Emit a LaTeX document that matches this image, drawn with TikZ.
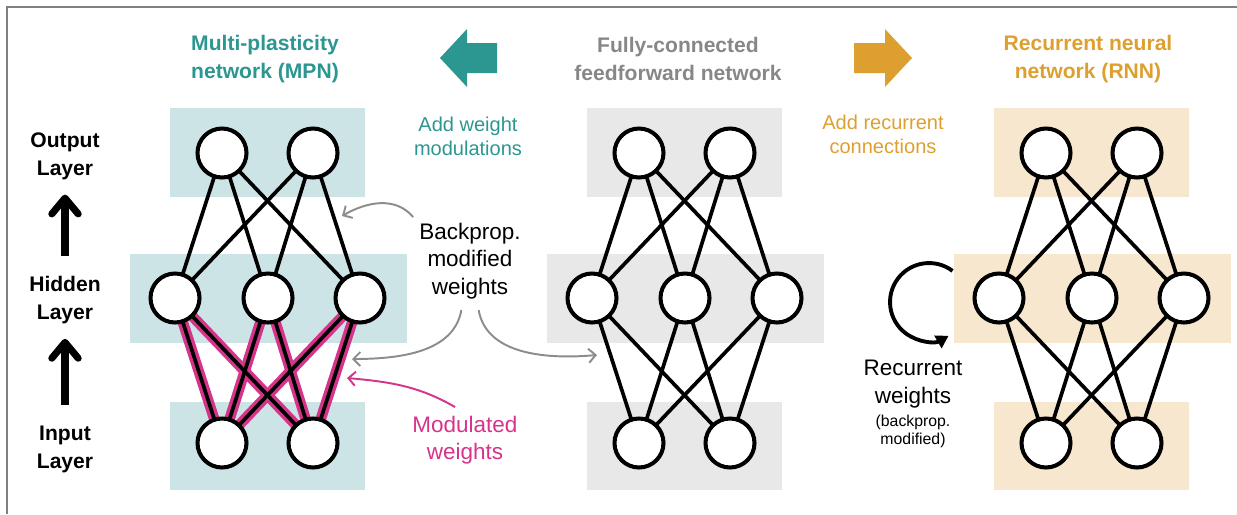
\documentclass[tikz,border=0pt]{standalone}
\usepackage{fontspec}
\setmainfont{Liberation Sans}
\usetikzlibrary{arrows.meta}

\definecolor{mpnteal}{RGB}{44,150,145}
\definecolor{mpnband}{RGB}{205,228,230}
\definecolor{ffgray}{RGB}{135,135,135}
\definecolor{ffband}{RGB}{232,232,232}
\definecolor{rnngold}{RGB}{221,160,48}
\definecolor{rnnband}{RGB}{246,231,206}
\definecolor{modpink}{RGB}{214,51,138}
\definecolor{hintgray}{RGB}{140,140,140}

\pgfdeclarelayer{bands}
\pgfdeclarelayer{wires}
\pgfsetlayers{bands,wires,main}

\begin{document}
\begin{tikzpicture}[x=0.02cm, y=0.02cm,
    neuron/.style={circle, draw, line width=2.3pt, fill=white, minimum size=0.98cm, inner sep=0pt},
    link/.style={line width=2.1pt},
    modlink/.style={draw=modpink, line width=6pt},
    title/.style={font=\bfseries\fontsize{12}{16}\selectfont, align=center},
    note/.style={font=\fontsize{11.4}{13.5}\selectfont, align=center},
    label/.style={font=\fontsize{12.8}{15.5}\selectfont, align=center},
    layername/.style={font=\bfseries\fontsize{12}{16}\selectfont, align=center},
    uparrow/.style={line width=4pt, -{Straight Barb[length=9pt,width=15pt,round]}},
    hint/.style={draw=hintgray, line width=1.1pt, -{Straight Barb[length=4pt,width=8pt]}},
    recur/.style={line width=2.2pt, -{Triangle[length=7pt,width=8pt]}}]

    \useasboundingbox (0,0) rectangle (1237,-514);

    % Frame
    \draw[gray, line width=0.6pt] (7,-514) -- (7,-7) -- (1237,-7);

    % Layer bands
    \begin{pgfonlayer}{bands}
        \foreach \dx/\col in {0/mpnband, 417/ffband, 824/rnnband} {
            \fill[\col] (170+\dx,-108) rectangle (365+\dx,-197);
            \fill[\col] (130+\dx,-254) rectangle (407+\dx,-343);
            \fill[\col] (170+\dx,-402) rectangle (365+\dx,-490);
        }
    \end{pgfonlayer}

    % Neurons of the three networks
    \foreach \n/\dx in {m/0, f/417, r/824} {
        \node[neuron] (\n-o1) at (222+\dx,-153) {};
        \node[neuron] (\n-o2) at (313+\dx,-153) {};
        \node[neuron] (\n-h1) at (175+\dx,-298) {};
        \node[neuron] (\n-h2) at (268+\dx,-298) {};
        \node[neuron] (\n-h3) at (360+\dx,-298) {};
        \node[neuron] (\n-i1) at (222+\dx,-443) {};
        \node[neuron] (\n-i2) at (313+\dx,-443) {};
    }

    % Weights
    \begin{pgfonlayer}{wires}
        \foreach \a in {1,2} {
            \foreach \b in {1,2,3} {
                \draw[modlink] (m-i\a.center) -- (m-h\b.center);
            }
        }
        \foreach \n in {m,f,r} {
            \foreach \a in {1,2} {
                \foreach \b in {1,2,3} {
                    \draw[link] (\n-o\a.center) -- (\n-h\b.center);
                    \draw[link] (\n-i\a.center) -- (\n-h\b.center);
                }
            }
        }
    \end{pgfonlayer}

    % Layer names
    \node[layername] (out-lbl) at (65,-156) {Output\\Layer};
    \node[layername] (hid-lbl) at (65,-300) {Hidden\\Layer};
    \node[layername] (in-lbl) at (65,-449) {Input\\Layer};
    \draw[uparrow, shorten <=8pt, shorten >=5pt] (hid-lbl) -- (out-lbl);
    \draw[uparrow, shorten <=8pt, shorten >=5pt] (in-lbl) -- (hid-lbl);

    % Titles
    \node[title, text=mpnteal] (mpn-title) at (265,-59) {Multi-plasticity\\network (MPN)};
    \node[title, text=ffgray] (ff-title) at (678,-59) {Fully-connected\\feedforward network};
    \node[title, text=rnngold] (rnn-title) at (1088,-59) {Recurrent neural\\network (RNN)};

    % Block arrows
    \fill[mpnteal] (440,-58) -- (467,-29) -- (467,-43) -- (497,-43) -- (497,-73)
        -- (467,-73) -- (467,-87) -- cycle;
    \fill[rnngold] (912,-58) -- (885,-29) -- (885,-43) -- (854,-43) -- (854,-73)
        -- (885,-73) -- (885,-87) -- cycle;

    \node[note, text=mpnteal] (add-mod) at (468,-136) {Add weight\\modulations};
    \node[note, text=rnngold] (add-rec) at (883,-134) {Add recurrent\\connections};

    % Backprop. and modulated weights
    \node[label] (bp) at (470,-261) {Backprop.\\modified\\weights};
    \node[label, text=modpink] (mod) at (465,-440) {Modulated\\weights};

    \coordinate (bp-tip1) at (342,-216);
    \coordinate (bp-tip2) at (352,-359);
    \coordinate (bp-tip3) at (597,-355);
    \coordinate (mod-tip) at (347,-378);

    \draw[hint] (bp.north west) to[out=130, in=30] (bp-tip1);
    \draw[hint, shorten <=3pt] (bp.-100) to[out=-100, in=0] (bp-tip2);
    \draw[hint, shorten <=3pt] (bp.-80) to[out=-80, in=185] (bp-tip3);
    \draw[hint, draw=modpink, shorten <=3pt] (mod.100) to[out=150, in=-5] (mod-tip);

    % Recurrent loop
    \coordinate (rec-start) at (952.5,-270.9);
    \draw[recur] (rec-start) arc[start angle=53, end angle=300, radius=39];
    \node[label] (rec-lbl) at (913,-384) {Recurrent\\weights};
    \node[font=\fontsize{9}{10.3}\selectfont, align=center] (rec-note) at (913,-431) {(backprop.\\modified)};
\end{tikzpicture}
\end{document}
